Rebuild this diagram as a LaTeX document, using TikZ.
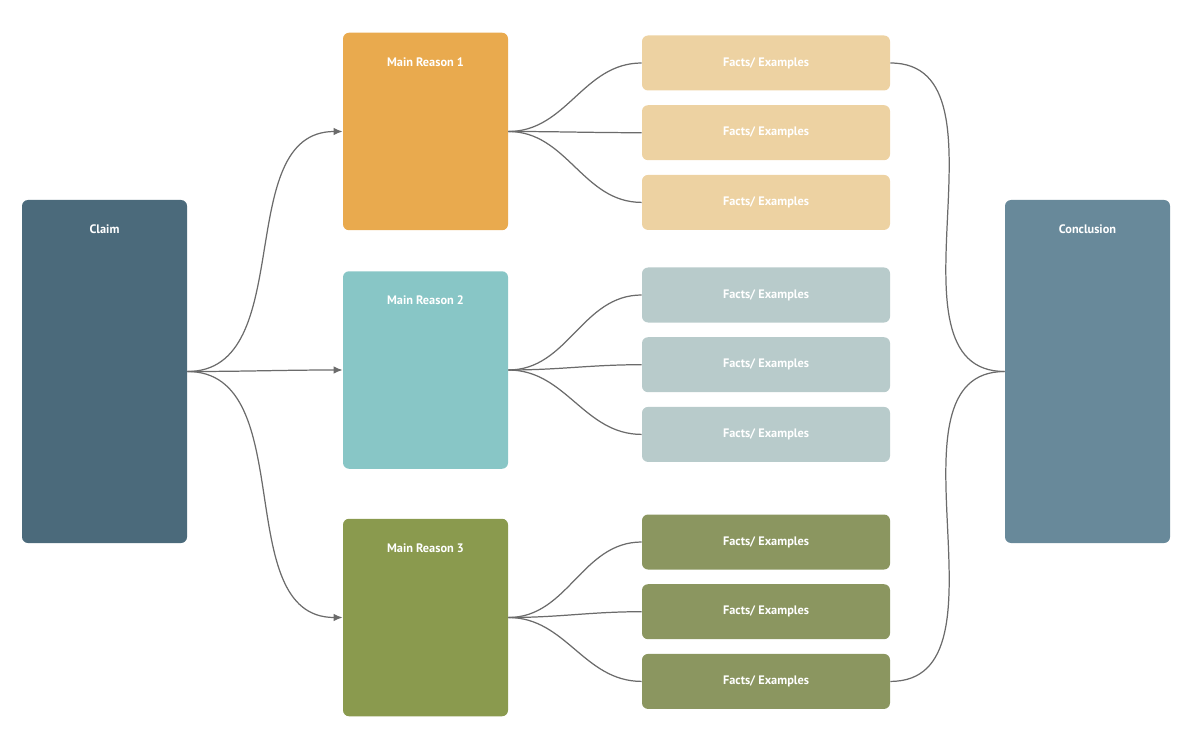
\documentclass[tikz,border=0pt]{standalone}
\usepackage{fontspec}
\setsansfont{PT Sans}
\usetikzlibrary{arrows.meta,positioning}
\definecolor{claimcol}{HTML}{4B6A7B}
\definecolor{conclcol}{HTML}{68899A}
\definecolor{reasonA}{HTML}{E9AA4E}
\definecolor{reasonB}{HTML}{88C6C6}
\definecolor{reasonC}{HTML}{8A9A4E}
\definecolor{factA}{HTML}{EDD2A2}
\definecolor{factB}{HTML}{B8CBCB}
\definecolor{factC}{HTML}{8B9660}
\definecolor{linecol}{HTML}{6B6B6B}

\begin{document}
\begin{tikzpicture}[
  txt/.style={font=\sffamily\bfseries\fontsize{7}{8}\selectfont, text=white},
  bigbox/.style={rounded corners=0.12cm, minimum width=3.3cm, inner sep=0pt},
  reason/.style={bigbox, minimum height=3.95cm},
  fact/.style={txt, rounded corners=0.12cm, minimum width=4.96cm, minimum height=1.1cm},
  every label/.style={txt, anchor=north, yshift=-0.38cm},
  link/.style={draw=linecol, line width=0.7pt},
  arrowlink/.style={link, -{Latex[length=1.8mm,width=1.5mm]}}]
\useasboundingbox (0,0) rectangle (23.62,14.8);

\node[bigbox, fill=claimcol, minimum height=6.86cm, label={north:Claim}] (claim) at (2.09,7.37) {};
\node[bigbox, fill=conclcol, minimum height=6.86cm, label={north:Conclusion}] (concl) at (21.75,7.37) {};

\node[reason, fill=reasonA, label={north:Main Reason 1}] (mr1) at (8.51,12.17) {};
\node[reason, fill=reasonB, label={north:Main Reason 2}] (mr2) at (8.51,7.4) {};
\node[reason, fill=reasonC, label={north:Main Reason 3}] (mr3) at (8.51,2.45) {};

\node[fact, fill=factA] (f11) at (15.32,13.54) {Facts/ Examples};
\node[fact, fill=factA, below=0.28cm of f11] (f12) {Facts/ Examples};
\node[fact, fill=factA, below=0.28cm of f12] (f13) {Facts/ Examples};

\node[fact, fill=factB] (f21) at (15.32,8.9) {Facts/ Examples};
\node[fact, fill=factB, below=0.28cm of f21] (f22) {Facts/ Examples};
\node[fact, fill=factB, below=0.28cm of f22] (f23) {Facts/ Examples};

\node[fact, fill=factC] (f31) at (15.32,3.96) {Facts/ Examples};
\node[fact, fill=factC, below=0.28cm of f31] (f32) {Facts/ Examples};
\node[fact, fill=factC, below=0.28cm of f32] (f33) {Facts/ Examples};

\foreach \r in {1,2,3} {
  \draw[arrowlink] (claim.east) to[out=0,in=180] (mr\r.west);
  \foreach \f in {1,2,3}
    \draw[link] (mr\r.east) to[out=0,in=180] (f\r\f.west);
}

\draw[link] (f11.east) to[out=0,in=180] (concl.west);
\draw[link] (f33.east) to[out=0,in=180] (concl.west);
\end{tikzpicture}
\end{document}
